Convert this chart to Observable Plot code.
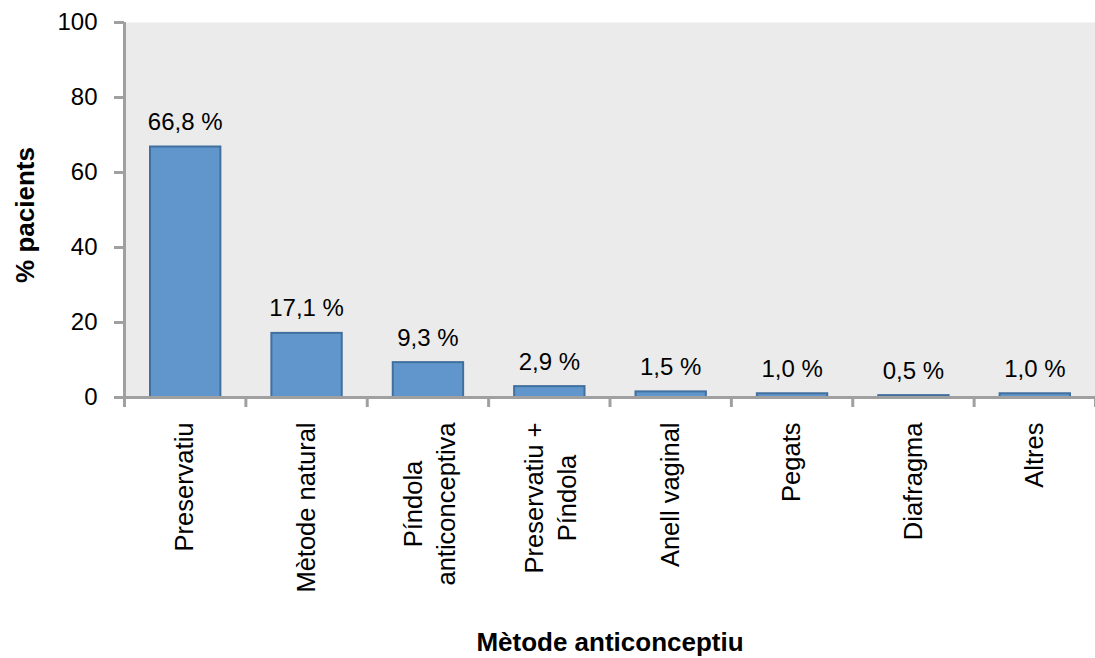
<!DOCTYPE html>
<html>
<head>
<meta charset="utf-8">
<script src="https://cdn.jsdelivr.net/npm/d3@7"></script>
<script src="https://cdn.jsdelivr.net/npm/@observablehq/plot@0.6"></script>
<style>
  html, body { margin: 0; padding: 0; background: #fff; }
  #chart svg { display: block; font-family: "Liberation Sans", Arial, sans-serif; }
</style>
</head>
<body>
<div id="chart"></div>
<script>
const categories = ["Preservatiu", "Mètode natural", "Píndola\nanticonceptiva", "Preservatiu +\nPíndola", "Anell vaginal", "Pegats", "Diafragma", "Altres"];
const values = [66.8, 17.1, 9.3, 2.9, 1.5, 1.0, 0.5, 1.0];
const yTicks = [0, 20, 40, 60, 80, 100];
const yTitle = "% pacients";
const xTitle = "Mètode anticonceptiu";

const data = categories.map((c, i) => ({i, cat: c, value: values[i], label: values[i].toFixed(1).replace(".", ",") + " %"}));
const axisColor = "#a0a0a0";
const catFontSize = 25.5;

// measure text widths so multi-line labels can be centred line by line (Excel style)
let ctx = null;
try {
  ctx = document.createElement("canvas").getContext("2d");
  ctx.font = catFontSize + "px 'Liberation Sans', Arial, sans-serif";
} catch (e) { ctx = null; }
function maxLineWidth(s) {
  return d3.max(s.split("\n"), l => ctx ? ctx.measureText(l).width : l.length * catFontSize * 0.5);
}

const singleLabels = data.filter(d => !d.cat.includes("\n"));
const multiLabels = data.filter(d => d.cat.includes("\n"));

const chart = Plot.plot({
  width: 1095,
  height: 658,
  marginLeft: 124,
  marginRight: 0,
  marginTop: 22,
  marginBottom: 261,
  x: {type: "linear", domain: [0, categories.length], axis: null},
  y: {domain: [0, 100], axis: null},
  marks: [
    Plot.frame({fill: "#ebebeb"}),
    Plot.rectY(data, {x1: "i", x2: d => d.i + 1, y: "value", insetLeft: 26, insetRight: 25, fill: "#6096cb", stroke: "#41709f", strokeWidth: 2}),
    Plot.text(data, {x: d => d.i + 0.5, y: "value", text: "label", lineAnchor: "bottom", dy: -17, fontSize: 24, fill: "#000"}),
    Plot.ruleY([0], {stroke: axisColor, strokeWidth: 3}),
    Plot.ruleX([0], {stroke: axisColor, strokeWidth: 3}),
    Plot.axisY(yTicks, {ticks: yTicks, tickSize: 10, tickPadding: 17, fontSize: 24, stroke: axisColor, strokeWidth: 3, fill: "#000", label: null}),
    Plot.axisX(d3.range(categories.length + 1), {ticks: d3.range(categories.length + 1), tickSize: 10, tickFormat: () => "", stroke: axisColor, strokeWidth: 3, label: null}),
    Plot.text(singleLabels, {x: d => d.i + 0.5, y: 0, text: "cat", rotate: -90, textAnchor: "end", lineAnchor: "middle", dy: 25, fontSize: catFontSize, fill: "#000"}),
    ...multiLabels.map(d => Plot.text([d], {x: e => e.i + 0.5, y: 0, text: "cat", rotate: -90, textAnchor: "middle", lineAnchor: "middle", lineHeight: 1.3, dy: 25 + maxLineWidth(d.cat) / 2, fontSize: catFontSize, fill: "#000"})),
    Plot.text([yTitle], {frameAnchor: "left", textAnchor: "middle", rotate: -90, dx: -99, dy: 5, fontSize: 26, fontWeight: "bold", fill: "#000"}),
    Plot.text([xTitle], {frameAnchor: "bottom", dy: 253, fontSize: 26, fontWeight: "bold", fill: "#000"})
  ]
});
document.getElementById("chart").appendChild(chart);
</script>
</body>
</html>
